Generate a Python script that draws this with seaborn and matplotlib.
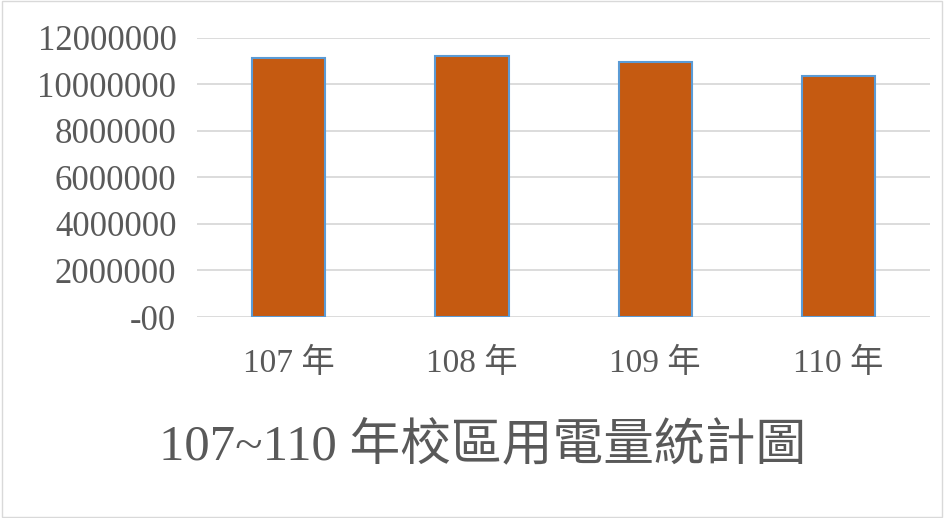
import pandas as pd
import matplotlib
matplotlib.use("Agg")
import matplotlib.pyplot as plt
import seaborn as sns

# datos
years = ["107 年", "108 年", "109 年", "110 年"]
usage = [11120000, 11230000, 10970000, 10370000]
yticks = [0, 2000000, 4000000, 6000000, 8000000, 10000000, 12000000]
ytick_labels = ["-00", "2000000", "4000000", "6000000", "8000000", "10000000", "12000000"]
title = "107~110 年校區用電量統計圖"

sns.set_style("white")
plt.rcParams["font.family"] = ["Liberation Serif", "Noto Sans CJK TC", "DejaVu Sans"]

df = pd.DataFrame({"year": years, "usage": usage})

fig = plt.figure(figsize=(9.44, 5.18), dpi=100)
ax = fig.add_axes([0.209, 0.388, 0.776, 0.539])

sns.barplot(data=df, x="year", y="usage", color="#C55A11", width=0.4,
            edgecolor="#5B9BD5", linewidth=1.5, saturation=1, ax=ax, zorder=3)

ax.set_ylim(0, 12000000)
ax.set_yticks(yticks)
ax.set_yticklabels(ytick_labels)
ax.yaxis.grid(True, color="#D9D9D9", linewidth=1.3, zorder=0)
ax.set_axisbelow(True)
ax.set_xlabel("")
ax.set_ylabel("")
for s in ax.spines.values():
    s.set_visible(False)
ax.tick_params(axis="y", length=0, pad=15, labelsize=25, labelcolor="#595959")
ax.tick_params(axis="x", length=0, pad=22, labelsize=24, labelcolor="#595959")

fig.text(0.511, 0.137, title, ha="center", va="center", fontsize=36.5,
         color="#595959", family=["Liberation Serif", "Noto Sans CJK TC"])

# borde del grafico
fig.patches.append(plt.Rectangle((0.002, 0.002), 0.996, 0.996, transform=fig.transFigure,
                                 fill=False, edgecolor="#D9D9D9", linewidth=1))

fig.savefig("out.png", dpi=100)
